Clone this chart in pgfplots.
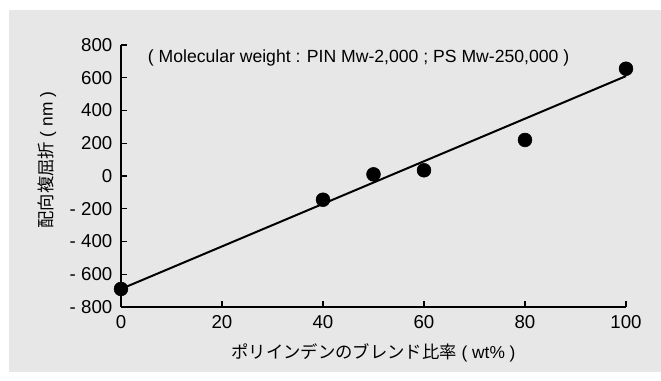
\documentclass[border=0pt]{standalone}
\usepackage{pgfplots}
\pgfplotsset{compat=1.18}
\usepackage{fontspec}
\setmainfont{Liberation Sans}
\newfontfamily\jp{Noto Sans CJK JP}
\definecolor{panel}{HTML}{E7E7E7}

\begin{document}
\begin{tikzpicture}[x=0.75pt,y=0.75pt]
% canvas and grey panel
\useasboundingbox (-121,-74) rectangle (540,307);
\fill[white] (-121,-74) rectangle (540,307);
\fill[panel] (-112,-65) rectangle (540,297);
\begin{axis}[
  at={(0,0)}, anchor=south west,
  scale only axis, width=378.75pt, height=196.5pt,
  xmin=0, xmax=100, ymin=-800, ymax=800,
  axis x line*=bottom, axis y line*=left,
  tick align=inside, major tick length=4.5pt,
  xtick={0,20,40,60,80,100}, xticklabels={0,20,40,60,80,100},
  ytick={-800,-600,-400,-200,0,200,400,600,800},
  yticklabels={- 800,- 600,- 400,- 200,0,200,400,600,800},
  axis line style={line width=1.1pt},
  tick style={line width=1.1pt, black},
  tick label style={font=\fontsize{14}{16}\selectfont},
  label style={font=\fontsize{13}{15}\selectfont},
  yticklabel style={xshift=-3pt},
  xticklabel style={yshift=-2.5pt},
  xlabel={{\jp ポリインデンのブレンド比率}\ ( wt\% )},
  ylabel={{\jp 配向複屈折}\ ( nm )},
  xlabel style={at={(axis description cs:0.5,-0.1756)}, anchor=center},
  ylabel style={at={(axis description cs:-0.1465,0.56)}, anchor=center},
  clip=false,
]
\addplot[black, line width=1.5pt] coordinates {(0,-690) (100,610)};
\addplot[only marks, mark=*, mark size=5.2pt, black] coordinates {
  (0,-690) (40,-145) (50,10) (60,35) (80,220) (100,655)};
\node[anchor=west, font=\fontsize{13.2}{15}\selectfont] at (axis cs:4.4,720)
  {( Molecular weight : PIN Mw-2,000 ; PS Mw-250,000 )};
\end{axis}
\end{tikzpicture}
\end{document}
